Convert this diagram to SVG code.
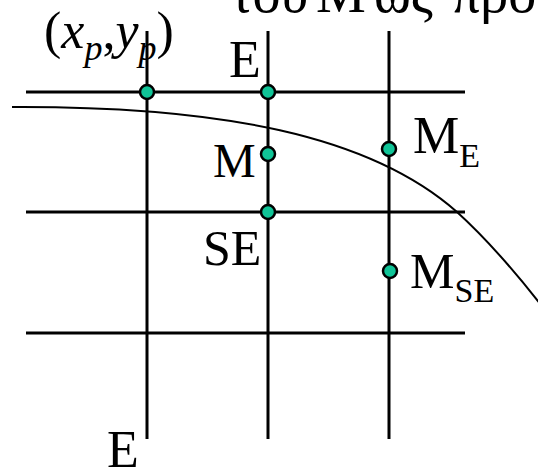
<svg xmlns="http://www.w3.org/2000/svg" width="538" height="470" viewBox="0 0 538 470">
<style>
.grid{stroke:#000;stroke-width:3;fill:none}
.curve{stroke:#000;stroke-width:2;fill:none}
.pt{fill:#10C497;stroke:#000;stroke-width:2.5}
text{font-family:"Liberation Serif","Times New Roman",serif;fill:#000}
</style>
<rect width="538" height="470" fill="#fff"/>
<text y="12" font-size="56"><tspan x="230">του</tspan> <tspan x="316">M</tspan> <tspan x="374">ως</tspan> <tspan x="452">προς</tspan></text>
<g id="connectors">
<line class="grid" x1="26" y1="92" x2="465" y2="92"/>
<line class="grid" x1="26" y1="212" x2="465" y2="212"/>
<line class="grid" x1="26" y1="333" x2="465" y2="333"/>
<line class="grid" x1="147" y1="31" x2="147" y2="439"/>
<line class="grid" x1="268" y1="31" x2="268" y2="439"/>
<line class="grid" x1="389" y1="31" x2="389" y2="439"/>
<path class="curve" d="M12,107 C220,106 370,135 457,212 C478,231 510,265 545,310"/>
</g>
<g id="node-p"><circle class="pt" cx="147" cy="92" r="7"/>
<text x="44" y="48" font-size="52">(<tspan font-style="italic">x</tspan><tspan font-style="italic" font-size="36" dy="12">p</tspan><tspan dy="-12">,</tspan><tspan font-style="italic">y</tspan><tspan font-style="italic" font-size="36" dy="12">p</tspan><tspan dy="-12">)</tspan></text></g>
<g id="node-E"><circle class="pt" cx="268" cy="92" r="7"/><text x="229" y="77" font-size="52">E</text></g>
<g id="node-M"><circle class="pt" cx="268" cy="154" r="7"/><text x="213" y="177" font-size="48">M</text></g>
<g id="node-SE"><circle class="pt" cx="268" cy="212" r="7"/><text x="203" y="265" font-size="50">SE</text></g>
<g id="node-ME"><circle class="pt" cx="389" cy="149" r="7"/><text x="413" y="153" font-size="52">M<tspan font-size="34" dy="14">E</tspan></text></g>
<g id="node-MSE"><circle class="pt" cx="390" cy="271" r="7"/><text x="410" y="288" font-size="50">M<tspan font-size="34" dy="14">SE</tspan></text></g>
<g id="node-E2"><text x="107" y="467" font-size="52">E</text></g>
</svg>
